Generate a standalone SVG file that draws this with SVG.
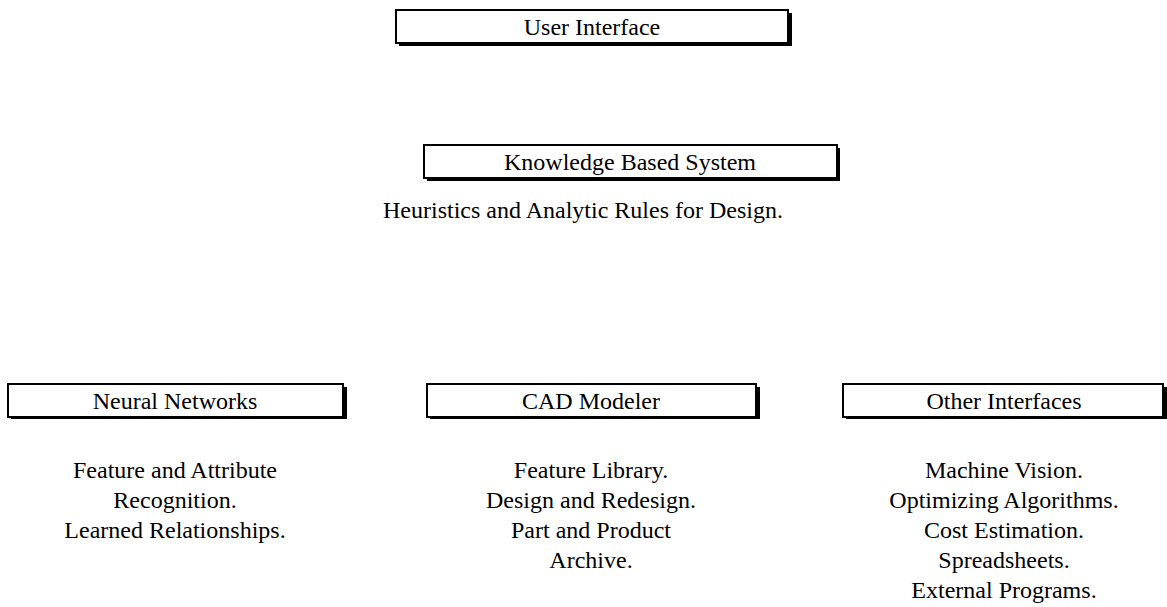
<svg xmlns="http://www.w3.org/2000/svg" width="1167" height="607" viewBox="0 0 1167 607">
<style>
.box{fill:#fff;stroke:#000;stroke-width:2}
.sh{fill:#000}
text{font-family:"Liberation Serif","Times New Roman",serif;font-size:24px;fill:#000;text-anchor:middle}
</style>
<rect width="1167" height="607" fill="#fff"/>
<g id="connectors"></g>
<g id="ui">
<rect class="sh" x="399" y="13" width="393" height="33"/>
<rect class="box" x="396" y="10" width="392" height="33"/>
<text x="592" y="35">User Interface</text>
</g>
<g id="kbs">
<rect class="sh" x="427" y="148" width="413" height="33"/>
<rect class="box" x="424" y="145" width="413" height="33"/>
<text x="630" y="170">Knowledge Based System</text>
<text x="583" y="218">Heuristics and Analytic Rules for Design.</text>
</g>
<g id="nn">
<rect class="sh" x="11" y="387" width="336" height="32"/>
<rect class="box" x="8" y="384" width="335" height="33"/>
<text x="175" y="409">Neural Networks</text>
<text x="175" y="478">Feature and Attribute</text>
<text x="175" y="508">Recognition.</text>
<text x="175" y="538">Learned Relationships.</text>
</g>
<g id="cad">
<rect class="sh" x="430" y="387" width="330" height="32"/>
<rect class="box" x="427" y="384" width="329" height="33"/>
<text x="591" y="409">CAD Modeler</text>
<text x="591" y="478">Feature Library.</text>
<text x="591" y="508">Design and Redesign.</text>
<text x="591" y="538">Part and Product</text>
<text x="591" y="568">Archive.</text>
</g>
<g id="other">
<rect class="sh" x="846" y="387" width="321" height="32"/>
<rect class="box" x="843" y="384" width="320" height="33"/>
<text x="1004" y="409">Other Interfaces</text>
<text x="1004" y="478">Machine Vision.</text>
<text x="1004" y="508">Optimizing Algorithms.</text>
<text x="1004" y="538">Cost Estimation.</text>
<text x="1004" y="568">Spreadsheets.</text>
<text x="1004" y="598">External Programs.</text>
</g>
</svg>
